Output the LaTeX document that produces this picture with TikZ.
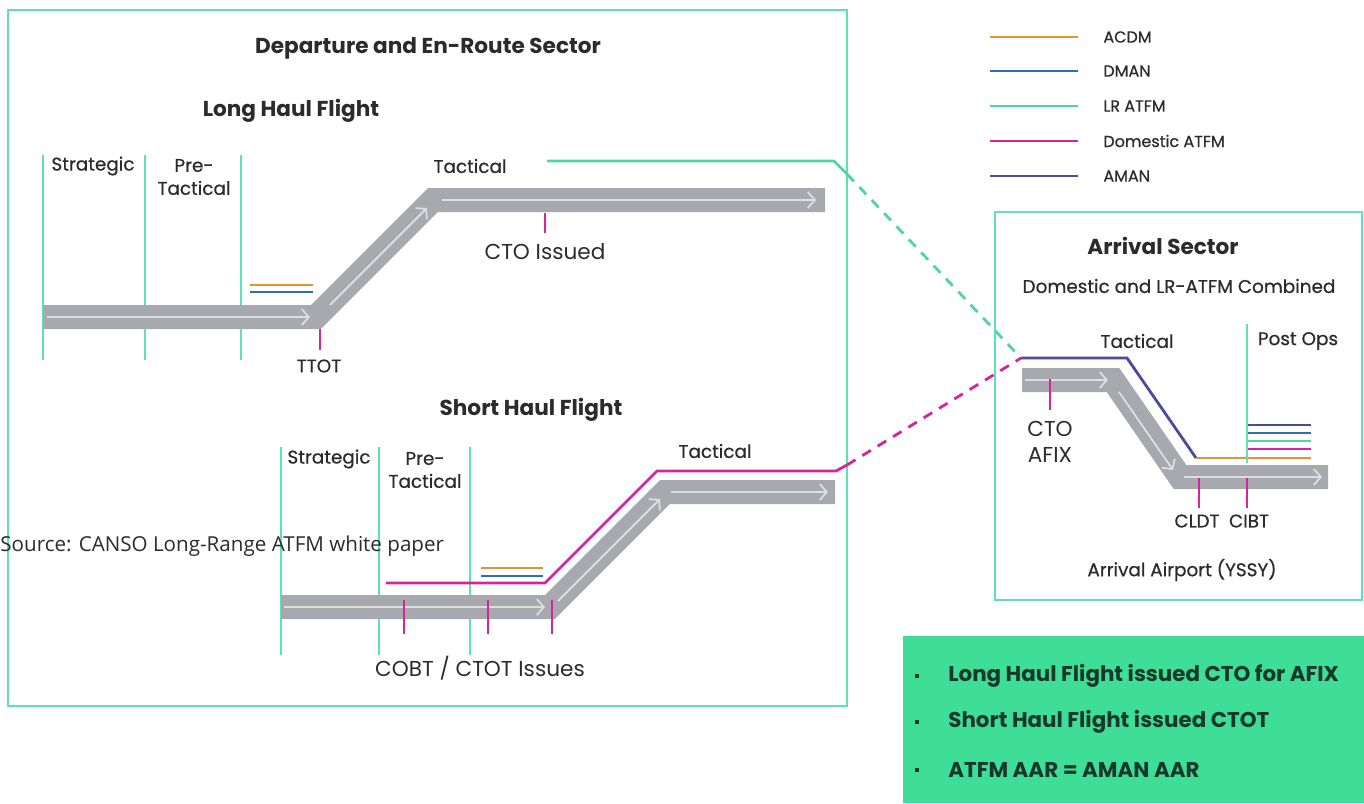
\documentclass[tikz,border=0pt]{standalone}
\usepackage{fontspec}
\setmainfont{Poppins}
\newfontfamily\medium{Poppins}[FakeBold=0.6]
\newfontfamily\srcfont{Open Sans}
\usetikzlibrary{arrows.meta,positioning}
\definecolor{mint}{HTML}{5FE0B5}
\definecolor{bandgray}{HTML}{A8A9AE}
\definecolor{flowgray}{HTML}{DDDEE2}
\definecolor{acdm}{HTML}{E8922F}
\definecolor{dman}{HTML}{2F6DB5}
\definecolor{lratfm}{HTML}{4FD6A0}
\definecolor{domatfm}{HTML}{D6249A}
\definecolor{aman}{HTML}{4B4A9E}
\definecolor{notefill}{HTML}{3EDD98}
\definecolor{txt}{HTML}{2B2B2E}
\definecolor{notetxt}{HTML}{17382A}
\tikzset{
  frame/.style={draw=mint,line width=1.2pt},
  phase/.style={draw=mint,line width=1.2pt},
  band/.style={draw=bandgray,line width=12pt,line join=miter},
  flow/.style={draw=flowgray,line width=0.9pt,-{Straight Barb[length=3.5pt,width=8pt,line width=0.9pt]}},
  tick/.style={draw=domatfm,line width=1.2pt},
  feed/.style={line width=1.4pt},
  head/.style={font=\fontsize{10.8}{12}\selectfont\bfseries,text=txt,inner sep=1pt},
  lbl/.style={font=\medium\fontsize{9.2}{11.5}\selectfont,text=txt,align=center,inner sep=1pt},
  big/.style={font=\fontsize{10.8}{13}\selectfont,text=txt,align=center,inner sep=1pt},
  legtxt/.style={font=\medium\fontsize{8}{10}\selectfont,text=txt,anchor=west,inner sep=1pt},
  bullet/.style={font=\fontsize{10.7}{12}\selectfont\bfseries,text=notetxt,anchor=west,inner sep=1pt},
}
\begin{document}
\begin{tikzpicture}[x=0.5pt,y=-0.5pt]
  \useasboundingbox (0,0) rectangle (1364,803);
  % sector frames and note box
  \draw[frame] (8,10) rectangle (847,706);
  \draw[frame] (995,212) rectangle (1362,600);
  \fill[notefill] (903,636) rectangle (1364,803);

  % departure and en-route sector
  \node[head] (dep) at (428,48) {Departure and En-Route Sector};
  \node[head] (lh) at (291,111) {Long Haul Flight};
  \foreach \x in {43,145,241} \draw[phase] (\x,155) -- (\x,360);
  \node[lbl] (lhstr) at (93,166) {Strategic};
  \node[lbl] (lhpre) at (194,177) {Pre-\\Tactical};
  \node[lbl] (lhtac) at (470,166) {Tactical};

  \coordinate (l1) at (43,317);
  \coordinate (l2) at (316,317);
  \coordinate (l3) at (433,200);
  \coordinate (l4) at (825,200);
  \draw[band] (l1) -- (l2) -- (l3) -- (l4);
  \draw[flow] (47,317) -- (310,317);
  \draw[flow] (330,305) -- (427,208);
  \draw[flow] (442,200) -- (816,200);

  \draw[acdm,feed] (250,285) -- (313,285);
  \draw[dman,feed] (250,292) -- (313,292);
  \draw[tick] (320,329) -- (320,350);
  \node[lbl] (ttot) at (319,366) {TTOT};
  \draw[tick] (545,213) -- (545,233);
  \node[big] (ctoi) at (545,252) {CTO Issued};

  \node[head] (sh) at (531,410) {Short Haul Flight};
  \foreach \x in {281,379,470} \draw[phase] (\x,447) -- (\x,655);
  \node[lbl] (shstr) at (329,459) {Strategic};
  \node[lbl] (shpre) at (425,470) {Pre-\\Tactical};
  \node[lbl] (shtac) at (715,451) {Tactical};

  \coordinate (s1) at (281,607);
  \coordinate (s2) at (550,607);
  \coordinate (s3) at (665,492);
  \coordinate (s4) at (835,492);
  \draw[band] (s1) -- (s2) -- (s3) -- (s4);
  \draw[flow] (284,607) -- (545,607);
  \draw[flow] (558,601) -- (660,499);
  \draw[flow] (671,492) -- (828,492);

  \draw[acdm,feed] (481,568) -- (543,568);
  \draw[dman,feed] (481,576) -- (543,576);
  \foreach \x in {404,488,552} \draw[tick] (\x,600) -- (\x,634);
  \node[big] (cobt) at (480,668) {COBT / CTOT Issues};

  % legend
  \foreach \y/\c/\t in {37/acdm/ACDM,71/dman/DMAN,106/lratfm/LR ATFM,141/domatfm/Domestic ATFM,176/aman/AMAN}{
    \coordinate (k\c) at (990,\y);
    \node[legtxt] (leg\c) at (1101,\y) {\t};
    \draw[\c,feed] (k\c) -- ++(88,0);
  }

  % arrival sector
  \node[head] (arr) at (1163,246) {Arrival Sector};
  \node[lbl] (comb) at (1179,286) {Domestic and LR-ATFM Combined};
  \node[lbl] (artac) at (1137,341) {Tactical};
  \node[lbl] (post) at (1298,341) {Post Ops};

  \coordinate (a1) at (1022,380);
  \coordinate (a2) at (1113,380);
  \coordinate (a3) at (1180,477);
  \coordinate (a4) at (1328,477);
  \draw[band] (a1) -- (a2) -- (a3) -- (a4);
  \draw[flow] (1025,380) -- (1108,380);
  \draw[flow] (1119,392) -- (1173,470);
  \draw[flow] (1184,477) -- (1322,477);

  \coordinate (fix) at (1021,358);
  \coordinate (land) at (1196,458);
  \draw[aman,feed] (fix) -- (1127,358) -- (land);
  \draw[acdm,feed] (land) -- (1311,458);
  \draw[domatfm,feed] (1248,449) -- (1311,449);
  \draw[lratfm,feed] (1248,441) -- (1311,441);
  \draw[dman,feed] (1248,433) -- (1311,433);
  \draw[aman,feed] (1248,425) -- (1311,425);
  \draw[phase] (1247,324) -- (1247,463);

  \draw[tick] (1050,379) -- (1050,410);
  \node[big] (ctoafix) at (1050,442) {CTO\\AFIX};
  \draw[tick] (1199,478) -- (1199,508);
  \draw[tick] (1247,478) -- (1247,508);
  \node[lbl] (cldt) at (1197,521) {CLDT};
  \node[lbl] (cibt) at (1249,521) {CIBT};
  \node[lbl] (apt) at (1182,570) {Arrival Airport (YSSY)};

  % hand-over links
  \draw[lratfm,feed] (547,161) -- (834,161) -- (847,174);
  \draw[lratfm,feed,dash pattern=on 5pt off 4pt] (847,174) -- (fix);
  \draw[domatfm,feed] (386,583) -- (545,583) -- (657,471) -- (836,471) -- (847,465);
  \draw[domatfm,feed,dash pattern=on 5pt off 4pt] (847,465) -- (fix);

  % notes
  \foreach \y/\t/\n in {676/Long Haul Flight issued CTO for AFIX/na,722/Short Haul Flight issued CTOT/nb,770/ATFM AAR = AMAN AAR/nc}{
    \fill[notetxt] (917,\y) ++(-2,-2) rectangle ++(4,4);
    \node[bullet] (\n) at (946,\y) {\t};
  }

  \node[font=\srcfont\fontsize{10.3}{12}\selectfont,text=txt,anchor=west,inner sep=0pt] (src) at (0,546) {Source: CANSO Long-Range ATFM white paper};
\end{tikzpicture}
\end{document}
